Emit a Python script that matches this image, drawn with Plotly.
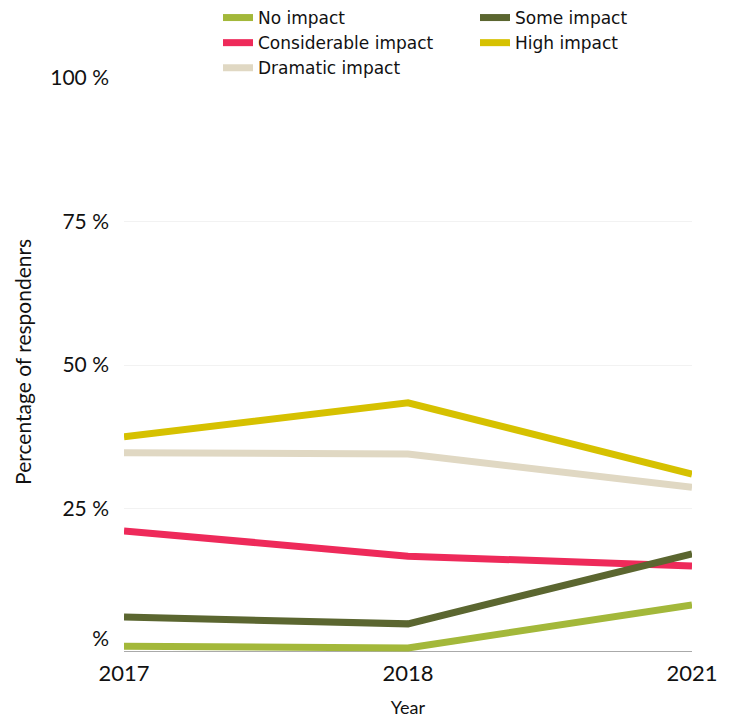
import plotly.graph_objects as go

years = ["2017", "2018", "2021"]
series_names = ["No impact", "Some impact", "Considerable impact", "High impact", "Dramatic impact"]
no_impact = [1.0, 0.7, 8.2]
some_impact = [6.1, 4.9, 17.1]
considerable_impact = [21.1, 16.7, 15.0]
high_impact = [37.5, 43.4, 31.0]
dramatic_impact = [34.7, 34.5, 28.7]
y_tickvals = [0, 25, 50, 75, 100]
y_ticktext = ["%<br>&nbsp;", "25 %", "50 %", "75 %", "100 %"]
y_title = "Percentage of respondenrs"
x_title = "Year"

colors = {
    "No impact": "#a3b83a",
    "Some impact": "#5b6630",
    "Considerable impact": "#ee2a5a",
    "High impact": "#d6c100",
    "Dramatic impact": "#e0d8c3",
}
values = {
    "No impact": no_impact,
    "Some impact": some_impact,
    "Considerable impact": considerable_impact,
    "High impact": high_impact,
    "Dramatic impact": dramatic_impact,
}
legend_col = {
    "No impact": "legend",
    "Considerable impact": "legend",
    "Dramatic impact": "legend",
    "Some impact": "legend2",
    "High impact": "legend2",
}
draw_order = ["Dramatic impact", "High impact", "Considerable impact", "Some impact", "No impact"]

font_family = "Lato, 'Open Sans', sans-serif"
legend_font = dict(family="'DejaVu Sans', sans-serif", size=17, color="#111111")

fig = go.Figure()
for name in draw_order:
    fig.add_trace(go.Scatter(
        x=years, y=values[name], name=name, mode="lines",
        line=dict(color=colors[name], width=7),
        legendrank=series_names.index(name) + 1,
        legend=legend_col[name],
        cliponaxis=False,
    ))

# emphasised 25 % gridline and baseline
fig.add_shape(type="line", xref="paper", yref="y", x0=0, x1=1, y0=25, y1=25,
              line=dict(color="#b5b5b5", width=1), layer="below")
fig.add_shape(type="line", xref="paper", yref="y", x0=0, x1=1, y0=0, y1=0,
              line=dict(color="#555555", width=1), layer="below")

fig.add_annotation(text=y_title, xref="paper", yref="paper", x=-0.18, y=0.505,
                   textangle=-90, showarrow=False, xanchor="center", yanchor="middle",
                   font=dict(size=21, color="#111111", family=font_family))

legend_common = dict(
    orientation="v", xanchor="left", yanchor="top",
    xref="container", yref="container", y=1.0,
    font=legend_font, tracegroupgap=0, itemwidth=30,
    bgcolor="rgba(0,0,0,0)",
)

fig.update_layout(
    width=730, height=722,
    margin=dict(l=124, r=38, t=78, b=70, autoexpand=False),
    paper_bgcolor="white", plot_bgcolor="white",
    font=dict(family=font_family, color="#111111"),
    showlegend=True,
    legend=dict(x=218 / 730, **legend_common),
    legend2=dict(x=475 / 730, **legend_common),
    xaxis=dict(
        type="category", range=[0, 2], showgrid=False, zeroline=False,
        showline=False, ticks="", ticklabelstandoff=6,
        tickfont=dict(size=22, color="#111111"),
        title=dict(text=x_title, font=dict(size=18, color="#111111"), standoff=16),
    ),
    yaxis=dict(
        range=[0, 100], tickvals=y_tickvals, ticktext=y_ticktext,
        showgrid=True, gridcolor="#f2f2f2", gridwidth=1,
        zeroline=False,
        showline=False, ticks="", ticklabelstandoff=14,
        tickfont=dict(size=21, color="#111111"),
    ),
)

fig.write_html("out.html")
